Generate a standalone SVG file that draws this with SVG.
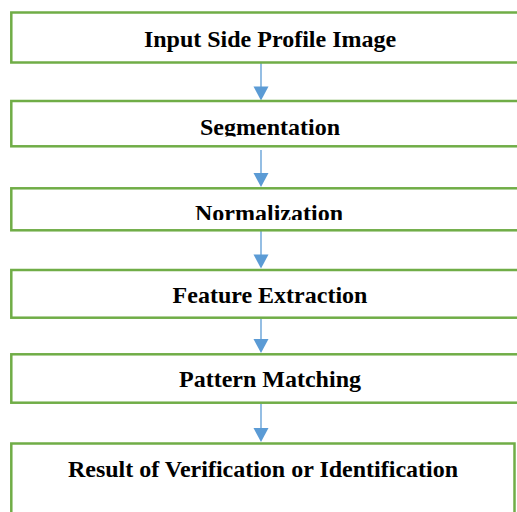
<svg xmlns="http://www.w3.org/2000/svg" width="517" height="512" viewBox="0 0 517 512">
<style>
.box{fill:#fff;stroke:#70AD47;stroke-width:2.5}
.lbl{font-family:"Liberation Serif","Times New Roman",serif;font-weight:bold;font-size:24px;fill:#000;text-anchor:middle}
.conn{stroke:#5B9BD5;stroke-width:1.3;fill:none}
.head{fill:#5B9BD5}
</style>
<defs>
<clipPath id="clipSeg"><rect x="0" y="100" width="517" height="36.5"/></clipPath>
<clipPath id="clipNorm"><rect x="0" y="189" width="517" height="31"/></clipPath>
</defs>
<rect width="517" height="512" fill="#fff"/>
<g id="connectors">
<line class="conn" x1="261" y1="63" x2="261" y2="88"/>
<polygon class="head" points="253.5,86.5 268.5,86.5 261,100.5"/>
<line class="conn" x1="261" y1="150" x2="261" y2="175"/>
<polygon class="head" points="253.5,173 268.5,173 261,187"/>
<line class="conn" x1="261" y1="231" x2="261" y2="256"/>
<polygon class="head" points="253.5,254.5 268.5,254.5 261,268.5"/>
<line class="conn" x1="261" y1="318.5" x2="261" y2="341"/>
<polygon class="head" points="253.5,339 268.5,339 261,353"/>
<line class="conn" x1="261" y1="403.5" x2="261" y2="430"/>
<polygon class="head" points="253.5,428 268.5,428 261,442"/>
</g>
<g id="n1">
<rect class="box" x="11.3" y="12.5" width="520" height="50"/>
<text class="lbl" x="270" y="46.5">Input Side Profile Image</text>
</g>
<g id="n2">
<rect class="box" x="11.3" y="101" width="520" height="45.3"/>
<text class="lbl" x="270" y="135" clip-path="url(#clipSeg)">Segmentation</text>
</g>
<g id="n3">
<rect class="box" x="11.3" y="188.3" width="520" height="42"/>
<text class="lbl" x="269" y="221" clip-path="url(#clipNorm)">Normalization</text>
</g>
<g id="n4">
<rect class="box" x="11.3" y="270" width="520" height="47.7"/>
<text class="lbl" x="270" y="303">Feature Extraction</text>
</g>
<g id="n5">
<rect class="box" x="11.3" y="354.3" width="520" height="48.4"/>
<text class="lbl" x="270" y="386.5">Pattern Matching</text>
</g>
<g id="n6">
<rect class="box" x="11.3" y="443.5" width="503.2" height="80"/>
<text class="lbl" x="263" y="477">Result of Verification or Identification</text>
</g>
</svg>
